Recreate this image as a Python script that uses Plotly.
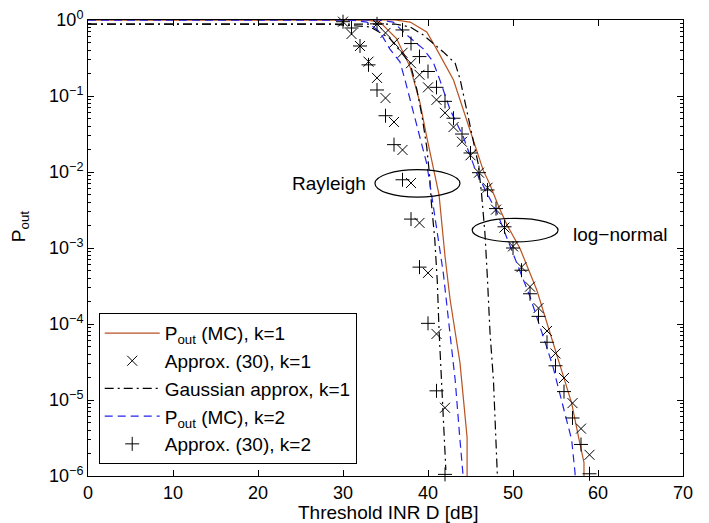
import plotly.graph_objects as go

# ---------------- data ----------------
# Approx. (30), k=1  (x markers)
ray_x_k1_x = [30, 31, 32, 33, 34, 35, 36, 37, 38, 39, 40, 41, 42]
ray_x_k1_y = [0.95, 0.655, 0.455, 0.283, 0.173, 0.094, 0.0455, 0.0195, 0.00716, 0.00214, 0.00047, 0.000074, 0.0000079]
ln_x_k1_x = [34, 35, 36, 37, 38, 39, 40, 41, 42, 43, 44, 45, 46, 47, 48, 49, 50, 51, 52, 53, 54, 55, 56, 57, 58, 59]
ln_x_k1_y = [0.885, 0.676, 0.50, 0.37, 0.27, 0.19, 0.13, 0.089, 0.060, 0.039, 0.025, 0.0166, 0.0098, 0.0062, 0.0032,
             0.00186, 0.00105, 0.00056, 0.00031, 0.000162, 0.000081, 0.000041, 0.0000195, 0.0000091, 0.0000042, 0.0000019]

# Approx. (30), k=2  (+ markers)
ray_p_k2_x = [30, 31, 32, 33, 34, 35, 36, 37, 38, 39, 40, 41, 42]
ray_p_k2_y = [0.95, 0.785, 0.455, 0.257, 0.12, 0.055, 0.0229, 0.0079, 0.0024, 0.00056, 0.000102, 0.0000132, 0.00000105]
ln_p_k2_x = [34, 37, 38, 39, 40, 41, 42, 43, 44, 45, 46, 47, 48, 49, 50, 51, 52, 53, 54, 55, 56, 57, 58, 59]
ln_p_k2_y = [0.89, 0.74, 0.49, 0.33, 0.21, 0.13, 0.085, 0.051, 0.0316, 0.0178, 0.0098, 0.0058, 0.0033, 0.0019,
             0.001, 0.00051, 0.00025, 0.000126, 0.0000575, 0.0000282, 0.0000129, 0.0000058, 0.0000026, 0.00000107]

# P_out (MC), k=1  (solid brown)
ray_mc1_x = [0, 32.7, 34.35, 36.3, 37.9, 39.06, 39.85, 40.6, 41.3, 42.0, 42.6, 43.3, 43.76, 44.6, 44.6]
ray_mc1_y = [1, 1, 0.94, 0.57, 0.24, 0.081, 0.029, 0.0117, 0.005, 0.00078, 0.00021, 0.000066, 0.000031, 0.0000032, 0.0000008]
ln_mc1_x = [0, 36.1, 37.9, 39.85, 41.0, 42.4, 43.0, 44.15, 45.7, 46.5, 47.3, 48.3, 49.3, 50.8, 52.8, 54.7, 55.7, 56.9,
            57.7, 58.35, 58.35]
ln_mc1_y = [1, 1, 0.94, 0.695, 0.417, 0.219, 0.162, 0.066, 0.0195, 0.0105, 0.0068, 0.00355, 0.002, 0.001, 0.00028,
            0.000056, 0.000024, 0.0000091, 0.0000033, 0.0000015, 0.0000008]

# P_out (MC), k=2  (dashed blue)
ray_mc2_x = [0, 30.8, 32.8, 34.35, 35.5, 36.7, 37.3, 38.2, 39.06, 39.85, 40.4, 41.0, 41.8, 42.6, 43.2, 43.76, 44.1, 44.1]
ray_mc2_y = [1, 1, 0.94, 0.695, 0.417, 0.282, 0.162, 0.066, 0.029, 0.0129, 0.0052, 0.00174, 0.00047, 0.0000724,
             0.0000182, 0.0000030, 0.0000011, 0.0000008]
ln_mc2_x = [0, 34.35, 35.9, 37.5, 39.45, 40.6, 41.4, 42.6, 44.15, 45.7, 48.1, 50.0, 52.0, 53.96, 54.7, 55.7, 56.9, 57.3, 57.3]
ln_mc2_y = [1, 1, 0.94, 0.635, 0.417, 0.282, 0.162, 0.066, 0.029, 0.0098, 0.00295, 0.00085, 0.000229, 0.00005,
            0.0000275, 0.00001, 0.000003, 0.0000011, 0.0000008]

# Gaussian approx, k=1  (dash-dot black)
ray_g_x = [0, 28.5, 33.2, 35.5, 37.9, 38.7, 39.3, 39.85, 40.2, 40.4, 40.8, 41.1, 41.3, 41.4, 41.8, 42.1]
ray_g_y = [0.885, 0.885, 0.81, 0.575, 0.269, 0.12, 0.054, 0.0214, 0.0087, 0.0039, 0.00129, 0.00035, 0.000083,
           0.00005, 0.0000081, 0.0000012]
ln_g_x = [0, 36.1, 37.9, 39.45, 41.8, 43.2, 43.8, 44.55, 45.3, 45.9, 46.3, 46.7, 46.98, 47.3, 47.7, 48.1, 48.2]
ln_g_y = [0.885, 0.885, 0.81, 0.635, 0.38, 0.269, 0.162, 0.066, 0.029, 0.0129, 0.0052, 0.00155, 0.00042, 0.000076,
          0.0000182, 0.0000013, 0.0000008]

x_ticks = [0, 10, 20, 30, 40, 50, 60, 70]
y_tickvals = [1e-6, 1e-5, 1e-4, 1e-3, 1e-2, 1e-1, 1]
y_ticktext = ["10<sup>−6</sup>", "10<sup>−5</sup>", "10<sup>−4</sup>", "10<sup>−3</sup>",
              "10<sup>−2</sup>", "10<sup>−1</sup>", "10<sup>0</sup>"]

# ---------------- styles ----------------
BROWN = "rgb(184,82,32)"
BLUE = "rgb(35,35,235)"
FONT = "Liberation Sans, Arial, Helvetica, sans-serif"
FS_TICK = 18
FS_TITLE = 19
FS_LEG = 19
FS_ANN = 19

fig = go.Figure()

def line(x, y, name, color, dash, show):
    fig.add_trace(go.Scatter(x=x, y=y, mode="lines", name=name, legendgroup=name, showlegend=show,
                             line=dict(color=color, width=1.2, dash=dash)))

def marks(x, y, name, symbol, show):
    fig.add_trace(go.Scatter(x=x, y=y, mode="markers", name=name, legendgroup=name, showlegend=show,
                             cliponaxis=False,
                             marker=dict(symbol=symbol, size=10, color="black",
                                         line=dict(color="black", width=1))))

n1 = "P<sub>out</sub> (MC), k=1"
n2 = "Approx. (30), k=1"
n3 = "Gaussian approx, k=1"
n4 = "P<sub>out</sub> (MC), k=2"
n5 = "Approx. (30), k=2"

line(ray_mc1_x, ray_mc1_y, n1, BROWN, "solid", True)
line(ln_mc1_x, ln_mc1_y, n1, BROWN, "solid", False)
marks(ray_x_k1_x, ray_x_k1_y, n2, "x-thin", True)
marks(ln_x_k1_x, ln_x_k1_y, n2, "x-thin", False)
line(ray_g_x, ray_g_y, n3, "black", "9px,4px,2px,4px", True)
line(ln_g_x, ln_g_y, n3, "black", "9px,4px,2px,4px", False)
line(ray_mc2_x, ray_mc2_y, n4, BLUE, "8px,5px", True)
line(ln_mc2_x, ln_mc2_y, n4, BLUE, "8px,5px", False)
marks(ray_p_k2_x, ray_p_k2_y, n5, "cross-thin", True)
marks(ln_p_k2_x, ln_p_k2_y, n5, "cross-thin", False)

# ellipses (placed in axis-domain fractions)
fig.add_shape(type="circle", xref="x", yref="y domain", x0=33.76, x1=43.76, y0=0.6117, y1=0.6717,
              line=dict(color="black", width=1.2))
fig.add_shape(type="circle", xref="x", yref="y domain", x0=45.2, x1=55.3, y0=0.5133, y1=0.565,
              line=dict(color="black", width=1.2))

fig.add_annotation(x=28.35, y=-2.145, text="Rayleigh", showarrow=False, xref="x", yref="y",
                   font=dict(family=FONT, size=FS_ANN, color="black"))
fig.add_annotation(x=62.6, y=-2.82, text="log−normal", showarrow=False, xref="x", yref="y",
                   font=dict(family=FONT, size=FS_ANN, color="black"))
# axis labels
fig.add_annotation(x=-0.114, y=0.546, xref="paper", yref="paper", text="P<sub>out</sub>",
                   textangle=-90, showarrow=False, xanchor="center", yanchor="middle",
                   font=dict(family=FONT, size=FS_TITLE, color="black"))
fig.add_annotation(x=0.505, y=0, xref="paper", yref="paper", yshift=-36, text="Threshold INR D [dB]",
                   showarrow=False, xanchor="center", yanchor="middle",
                   font=dict(family=FONT, size=FS_TITLE, color="black"))

axis_common = dict(showline=True, linecolor="black", linewidth=1, mirror="allticks",
                   ticks="inside", ticklen=6, tickcolor="black", showgrid=False, zeroline=False,
                   automargin=False, ticklabeloverflow="allow",
                   tickfont=dict(family=FONT, size=FS_TICK, color="black"))

fig.update_xaxes(range=[0, 70], tickvals=x_ticks, ticktext=[str(v) for v in x_ticks],
                 **axis_common)
fig.update_yaxes(type="log", range=[-6, 0], tickvals=y_tickvals, ticktext=y_ticktext,
                 minor=dict(ticks="inside", ticklen=3, tickcolor="black", dtick="D1", showgrid=False),
                 **axis_common)

# The page body adds an 8 px offset; the figure is sized so that it fills the window.
fig.update_layout(
    width=701, height=515,
    margin=dict(l=80, r=26, t=12, b=47),
    paper_bgcolor="white", plot_bgcolor="white",
    font=dict(family=FONT, size=FS_TICK, color="black"),
    showlegend=True,
    legend=dict(x=0.018, y=0.357, xanchor="left", yanchor="top",
                bgcolor="white", bordercolor="black", borderwidth=1,
                font=dict(family=FONT, size=FS_LEG, color="black"),
                itemwidth=55, tracegroupgap=0, traceorder="normal"),
)

fig.write_html("out.html")
